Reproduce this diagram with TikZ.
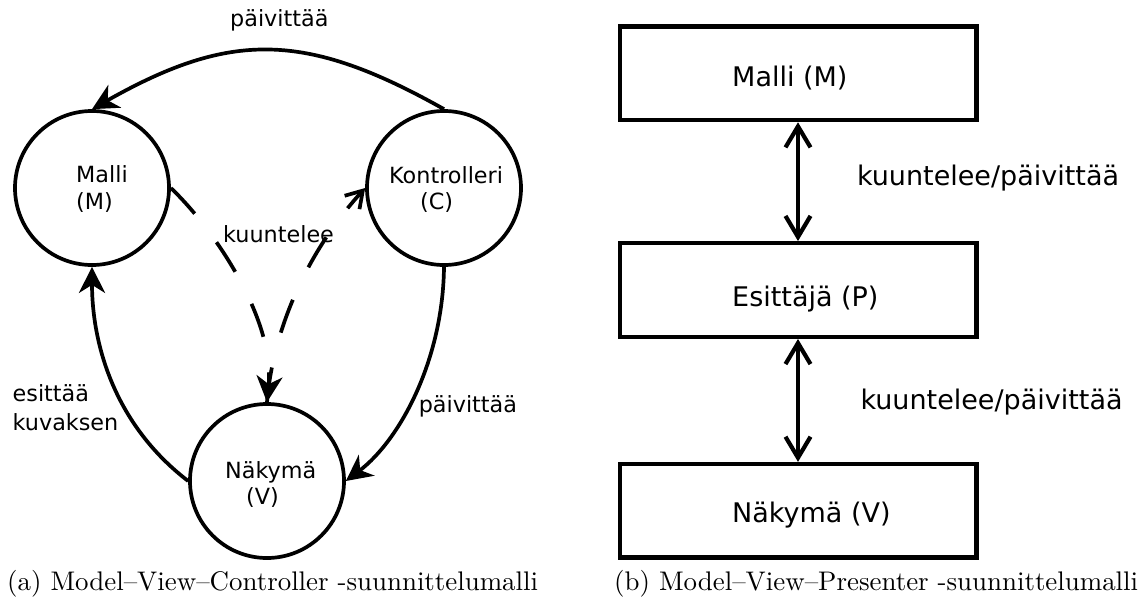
\documentclass[tikz,border=0pt]{standalone}
\usepackage{fontspec}
\setmainfont{DejaVu Sans}
\newfontfamily\capfont{lmroman10-regular.otf}
\usetikzlibrary{arrows.meta}

\begin{document}
\begin{tikzpicture}[x=1pt,y=-1pt,
  mvcnode/.style={circle, draw, line width=3.7pt, minimum size=154pt, inner sep=0pt},
  mvpbox/.style={rectangle, draw, line width=4.4pt, minimum width=356.6pt, minimum height=93.5pt, inner sep=0pt},
  lbl/.style={inner sep=0pt, anchor=base west, font=\fontsize{22.3}{26}\selectfont},
  boxlbl/.style={inner sep=0pt, anchor=base west, font=\fontsize{27}{32}\selectfont},
  capt/.style={inner sep=0pt, anchor=base west, font=\capfont\fontsize{26.9}{32}\selectfont},
  flow/.style={line width=3.7pt, -{Stealth[length=26pt,width=26pt,inset=8pt]}},
  listen/.style={line width=3.7pt, dash pattern=on 35pt off 36pt},
  twoway/.style={line width=4.2pt, {Straight Barb[length=21pt,width=25pt]}-{Straight Barb[length=21pt,width=25pt]}},
]
\useasboundingbox (0,0) rectangle (1144,605);

% ---- (a) Model-View-Controller ----
\node[mvcnode] (M) at (92,188) {};
\node[mvcnode] (C) at (444,188) {};
\node[mvcnode] (V) at (267,481) {};

\node[lbl] (mName) at (76,182) {Malli};
\node[lbl] (mLetter) at (76,209) {(M)};
\node[lbl] (cName) at (389,183) {Kontrolleri};
\node[lbl] (cLetter) at (420,209) {(C)};
\node[lbl] (vName) at (225,478) {Näkymä};
\node[lbl] (vLetter) at (246,504) {(V)};

% controller updates model
\draw[flow] (C.north) .. controls (305,31) and (230,31) .. (M.north);
\node[lbl] (updTop) at (230,27) {päivittää};

% view renders model
\draw[flow] (V.west) .. controls (115,425) and (92,345) .. (M.south);
\node[lbl] (showA) at (12.5,401) {esittää};
\node[lbl] (showB) at (12.5,430) {kuvaksen};

% controller updates view
\draw[flow] (C.south) .. controls (443,360) and (400,440) .. (V.east);
\node[lbl] (updRight) at (418.6,412) {päivittää};

% listening relations
\draw[listen, -{Stealth[length=26pt,width=26pt,inset=8pt]}]
  (M.east) .. controls (215,230) and (275,320) .. (V.north);
\draw[listen, -{Straight Barb[length=16pt,width=20pt]}]
  (V.north) .. controls (272,340) and (300,260) .. (C.west);
\node[lbl] (listenLbl) at (223,242) {kuuntelee};

% ---- (b) Model-View-Presenter ----
\node[mvpbox] (BM) at (798,73.3) {};
\node[mvpbox] (BP) at (798,290) {};
\node[mvpbox] (BV) at (798,510.8) {};

\node[boxlbl] (bmName) at (732,86) {Malli (M)};
\node[boxlbl] (bpName) at (732,306) {Esittäjä (P)};
\node[boxlbl] (bvName) at (732,522.7) {Näkymä (V)};

\draw[twoway] (BM.south) -- (BP.north);
\draw[twoway] (BP.south) -- (BV.north);
\node[boxlbl] (mpLbl) at (856.8,185) {kuuntelee/päivittää};
\node[boxlbl] (pvLbl) at (860.3,409.3) {kuuntelee/päivittää};

% ---- captions ----
\node[capt] (capA) at (7,590) {(a) Model–View–Controller -suunnittelumalli};
\node[capt] (capB) at (614,590) {(b) Model–View–Presenter -suunnittelumalli};
\end{tikzpicture}
\end{document}
